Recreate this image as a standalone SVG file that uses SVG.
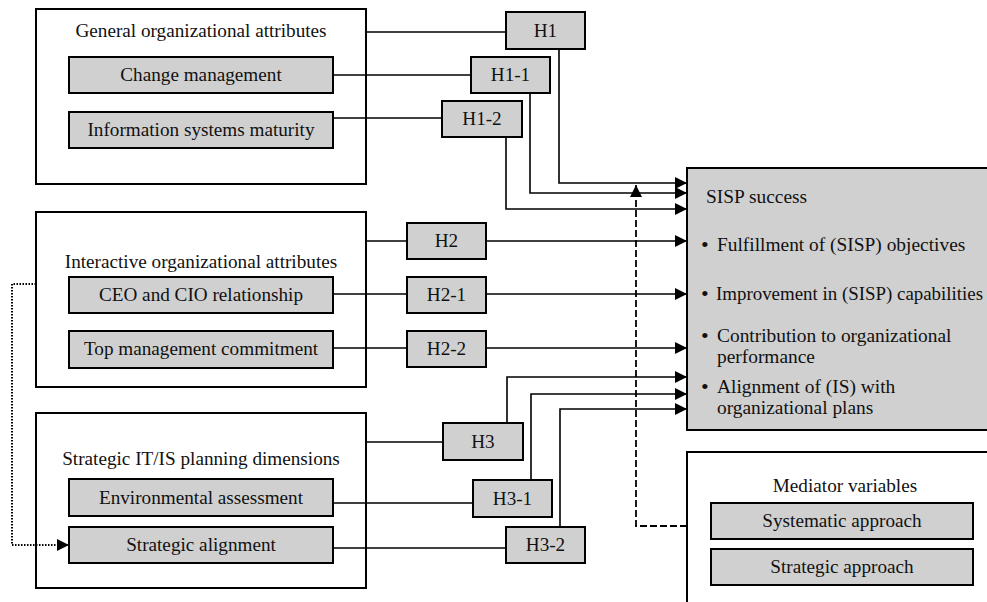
<svg xmlns="http://www.w3.org/2000/svg" width="987" height="602" viewBox="0 0 987 602">
<defs>
<marker id="arr" viewBox="0 0 12 12" refX="12" refY="6" markerWidth="12" markerHeight="12" markerUnits="userSpaceOnUse" orient="auto">
<path d="M0,0 L12,6 L0,12 Z" fill="#000"/>
</marker>
</defs>
<style>
text{font-family:"Liberation Serif","Times New Roman",serif;font-size:19.2px;fill:#111;text-anchor:middle}
.outer{fill:none;stroke:#000;stroke-width:2}
.inner{fill:#d0d0d0;stroke:#000;stroke-width:2}
.ln{fill:none;stroke:#000;stroke-width:1.6}
.ar{fill:none;stroke:#000;stroke-width:1.6;marker-end:url(#arr)}
.dash{fill:none;stroke:#000;stroke-width:1.8;stroke-dasharray:7 3;marker-end:url(#arr)}
.dot{fill:none;stroke:#000;stroke-width:2;stroke-dasharray:1.5 1.5;marker-end:url(#arr)}
.lt{text-anchor:start;font-size:19.4px}
.bul{text-anchor:start;font-size:22px}
</style>
<rect width="987" height="602" fill="#fff"/>

<g id="connectors">
<line class="ln" x1="366" y1="32" x2="506" y2="32"/>
<line class="ln" x1="333" y1="75" x2="471" y2="75"/>
<line class="ln" x1="333" y1="118" x2="442" y2="118"/>
<polyline class="ar" points="559,49 559,183 687,183"/>
<polyline class="ar" points="530,93 530,193 687,193"/>
<polyline class="ar" points="506,137 506,209 687,209"/>
<line class="ln" x1="366" y1="241" x2="407" y2="241"/>
<line class="ln" x1="333" y1="294" x2="407" y2="294"/>
<line class="ln" x1="333" y1="348" x2="407" y2="348"/>
<line class="ar" x1="486" y1="241" x2="687" y2="241"/>
<line class="ar" x1="486" y1="294" x2="687" y2="294"/>
<line class="ar" x1="486" y1="348" x2="687" y2="348"/>
<line class="ln" x1="366" y1="442" x2="443" y2="442"/>
<line class="ln" x1="333" y1="503" x2="473" y2="503"/>
<line class="ln" x1="333" y1="548" x2="506" y2="548"/>
<polyline class="ar" points="507,423 507,377 687,377"/>
<polyline class="ar" points="531,480 531,394 687,394"/>
<polyline class="ar" points="560,527 560,409 687,409"/>
<polyline class="dash" points="687,526 636,526 636,185"/>
<polyline class="dot" points="36,284 12,284 12,545 69,545"/>
</g>

<g id="general">
<rect class="outer" x="36" y="9" width="330" height="175"/>
<text x="201" y="37">General organizational attributes</text>
</g>
<g id="change-management">
<rect class="inner" x="69" y="57" width="264" height="36"/>
<text x="201" y="81">Change management</text>
</g>
<g id="is-maturity">
<rect class="inner" x="69" y="112" width="264" height="36"/>
<text x="201" y="136">Information systems maturity</text>
</g>

<g id="interactive">
<rect class="outer" x="36" y="212" width="330" height="175"/>
<text x="201" y="268">Interactive organizational attributes</text>
</g>
<g id="ceo-cio">
<rect class="inner" x="69" y="277" width="264" height="36"/>
<text x="201" y="301">CEO and CIO relationship</text>
</g>
<g id="top-mgmt">
<rect class="inner" x="69" y="331" width="264" height="37"/>
<text x="201" y="355">Top management commitment</text>
</g>

<g id="strategic">
<rect class="outer" x="36" y="413" width="330" height="175"/>
<text x="201" y="465">Strategic IT/IS planning dimensions</text>
</g>
<g id="env-assessment">
<rect class="inner" x="69" y="479" width="264" height="37"/>
<text x="201" y="504">Environmental assessment</text>
</g>
<g id="strategic-alignment">
<rect class="inner" x="69" y="527" width="264" height="36"/>
<text x="201" y="551">Strategic alignment</text>
</g>

<g id="h1"><rect class="inner" x="506" y="12" width="79" height="37"/><text x="545.5" y="37">H1</text></g>
<g id="h1-1"><rect class="inner" x="471" y="57" width="79" height="36"/><text x="510.5" y="81">H1-1</text></g>
<g id="h1-2"><rect class="inner" x="442" y="101" width="80" height="36"/><text x="482" y="125">H1-2</text></g>
<g id="h2"><rect class="inner" x="407" y="223" width="79" height="36"/><text x="446.5" y="247">H2</text></g>
<g id="h2-1"><rect class="inner" x="407" y="277" width="79" height="36"/><text x="446.5" y="301">H2-1</text></g>
<g id="h2-2"><rect class="inner" x="407" y="331" width="79" height="36"/><text x="446.5" y="355">H2-2</text></g>
<g id="h3"><rect class="inner" x="443" y="423" width="80" height="37"/><text x="483" y="448">H3</text></g>
<g id="h3-1"><rect class="inner" x="473" y="480" width="79" height="37"/><text x="512.5" y="505">H3-1</text></g>
<g id="h3-2"><rect class="inner" x="506" y="527" width="79" height="36"/><text x="545.5" y="551">H3-2</text></g>

<g id="sisp-success">
<rect class="inner" x="687" y="168" width="320" height="262"/>
<text class="lt" x="706" y="203">SISP success</text>
<text class="bul" x="701" y="252">•</text>
<text class="lt" x="717" y="251">Fulfillment of (SISP) objectives</text>
<text class="bul" x="701" y="301">•</text>
<text class="lt" x="716" y="300" style="font-size:18.9px">Improvement in (SISP) capabilities</text>
<text class="bul" x="701" y="343">•</text>
<text class="lt" x="717" y="342">Contribution to organizational</text>
<text class="lt" x="717" y="363">performance</text>
<text class="bul" x="701" y="394">•</text>
<text class="lt" x="717" y="393">Alignment of (IS) with</text>
<text class="lt" x="717" y="414">organizational plans</text>
</g>

<g id="mediator">
<rect class="outer" x="687" y="452" width="320" height="170"/>
<text x="845" y="492">Mediator variables</text>
</g>
<g id="systematic-approach">
<rect class="inner" x="711" y="503" width="262" height="36"/>
<text x="842" y="527">Systematic approach</text>
</g>
<g id="strategic-approach">
<rect class="inner" x="711" y="549" width="262" height="36"/>
<text x="842" y="573">Strategic approach</text>
</g>
</svg>
